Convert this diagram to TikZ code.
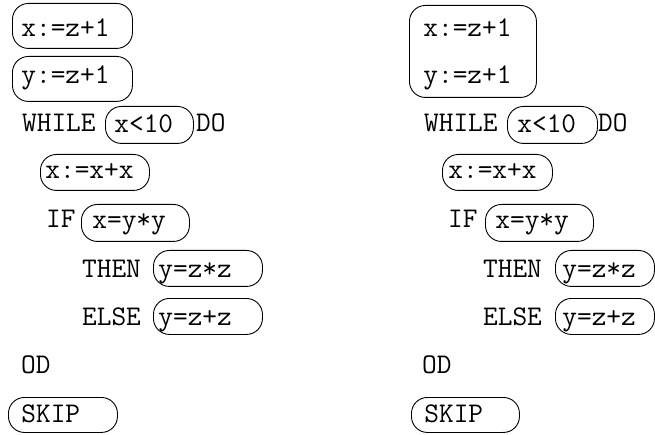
\documentclass[tikz,border=0pt]{standalone}
\begin{document}
\begin{tikzpicture}[x=1pt,y=-1pt,
  font=\fontsize{28.5}{47}\selectfont\ttfamily,
  stmt/.style={draw, line width=0.9pt, rounded corners=16pt, anchor=north west, align=left, inner ysep=0pt},
  kw/.style={anchor=base west, inner sep=0pt}]
\useasboundingbox (0,0) rectangle (655,435);
% left program
\node[stmt, inner xsep=9pt, text width=102pt, text height=33pt, text depth=12pt] (l1) at (12,3) {x:=z+1};
\node[stmt, inner xsep=9pt, text width=102pt, text height=27pt, text depth=18pt] (l2) at (12,56) {y:=z+1};
\node[kw] (lwhile) at (22,132) {WHILE};
\node[stmt, inner xsep=9pt, text width=70pt, text height=26pt, text depth=11pt] (lc) at (105,106) {x<10};
\node[kw] (ldo) at (196,132) {DO};
\node[stmt, inner xsep=5pt, text width=99pt, text height=24pt, text depth=12pt] (lb) at (40,154) {x:=x+x};
\node[kw] (lif) at (46,228) {IF};
\node[stmt, inner xsep=11pt, text width=86pt, text height=24pt, text depth=13pt] (lt) at (81,204) {x=y*y};
\node[kw] (lthen) at (82,277) {THEN};
\node[stmt, inner xsep=5pt, text width=99pt, text height=27pt, text depth=9pt] (ly1) at (153,250) {y=z*z};
\node[kw] (lelse) at (82,325) {ELSE};
\node[stmt, inner xsep=5pt, text width=99pt, text height=27pt, text depth=9pt] (ly2) at (153,298) {y=z+z};
\node[kw] (lod) at (21,373) {OD};
\node[stmt, inner xsep=13pt, text width=83pt, text height=25pt, text depth=10pt] (lskip) at (8,397) {SKIP};
% right program
\node[stmt, inner xsep=14pt, text width=99pt, text height=31pt, text depth=61pt] (r12) at (409,5) {x:=z+1\\y:=z+1};
\node[kw] (rwhile) at (424,132) {WHILE};
\node[stmt, inner xsep=10pt, text width=70pt, text height=26pt, text depth=11pt] (rc) at (507,106) {x<10};
\node[kw] (rdo) at (598,132) {DO};
\node[stmt, inner xsep=6pt, text width=98pt, text height=24pt, text depth=12pt] (rb) at (442,154) {x:=x+x};
\node[kw] (rif) at (448,228) {IF};
\node[stmt, inner xsep=10pt, text width=88pt, text height=24pt, text depth=13pt] (rt) at (485,204) {x=y*y};
\node[kw] (rthen) at (483,277) {THEN};
\node[stmt, inner xsep=7pt, text width=85pt, text height=27pt, text depth=9pt] (ry1) at (555,250) {y=z*z};
\node[kw] (relse) at (483,325) {ELSE};
\node[stmt, inner xsep=7pt, text width=85pt, text height=27pt, text depth=9pt] (ry2) at (555,298) {y=z+z};
\node[kw] (rod) at (422,373) {OD};
\node[stmt, inner xsep=13pt, text width=82pt, text height=25pt, text depth=10pt] (rskip) at (411,397) {SKIP};
\end{tikzpicture}
\end{document}
